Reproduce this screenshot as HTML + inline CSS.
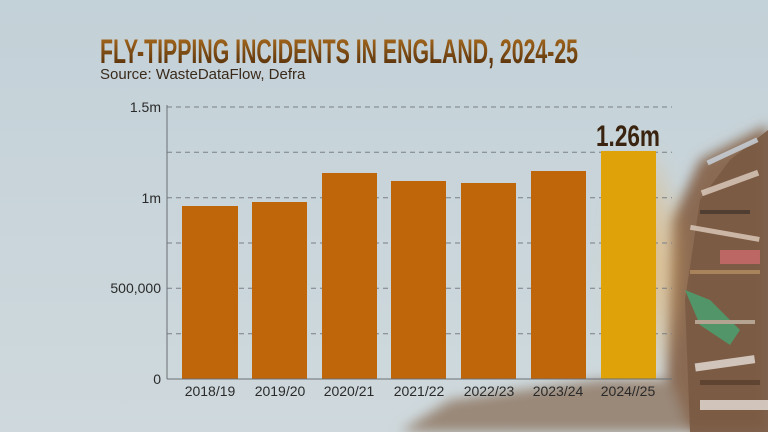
<!DOCTYPE html>
<html><head><style>
body{margin:0;width:768px;height:432px;overflow:hidden;background:#c8d5dc;}
svg{display:block}
</style></head><body>
<svg width="768" height="432" viewBox="0 0 768 432" xmlns="http://www.w3.org/2000/svg">
<defs>
<linearGradient id="bg" x1="0" y1="0" x2="0" y2="1">
<stop offset="0" stop-color="#c3d1d8"/><stop offset="1" stop-color="#cfd9dd"/>
</linearGradient>
<linearGradient id="tg" x1="0" y1="0" x2="0" y2="1">
<stop offset="0" stop-color="#b07020"/><stop offset="1" stop-color="#4a2808"/>
</linearGradient>
<radialGradient id="glow" cx="0.5" cy="0.5" r="0.5">
<stop offset="0" stop-color="#e8b060" stop-opacity="0.8"/><stop offset="1" stop-color="#e8b060" stop-opacity="0"/>
</radialGradient>
<filter id="bl"><feGaussianBlur stdDeviation="6"/></filter>
</defs>
<rect width="768" height="432" fill="url(#bg)"/>
<g filter="url(#bl)">
<path d="M665 432 L672 220 L700 160 L768 125 L768 432Z" fill="#8a6a52"/>
<path d="M400 432 L450 400 L520 390 L600 380 L670 380 L690 432Z" fill="#9a8878"/>
<rect x="600" y="140" width="90" height="250" fill="url(#glow)"/>
</g>
<path d="M690 432 L685 300 L700 200 L730 160 L768 130 L768 432Z" fill="#7a5a42" opacity="0.9"/>
<g opacity="0.85">
<rect x="700" y="180" width="60" height="6" fill="#d9c8ba" transform="rotate(-20 730 183)"/>
<rect x="690" y="230" width="70" height="5" fill="#d9c7b8" transform="rotate(10 720 232)"/>
<rect x="720" y="250" width="40" height="14" fill="#c86a6a"/>
<path d="M685 290 L710 300 L740 330 L730 345 L700 325Z" fill="#4aa070"/>
<rect x="695" y="360" width="60" height="8" fill="#e0d8d0" transform="rotate(-8 720 364)"/>
<rect x="700" y="400" width="68" height="10" fill="#dfd7d0"/>
<rect x="705" y="150" width="55" height="5" fill="#c8d0d8" transform="rotate(-25 730 152)"/>
<rect x="700" y="210" width="50" height="4" fill="#4a3a30"/>
<rect x="690" y="270" width="70" height="4" fill="#b08a60"/>
<rect x="695" y="320" width="60" height="4" fill="#c0b0a0"/>
<rect x="700" y="380" width="60" height="5" fill="#5a4030"/>
</g>
<text x="100" y="63" font-family="Liberation Sans Narrow, Liberation Sans, sans-serif" font-weight="bold" font-size="34" fill="url(#tg)" textLength="478" lengthAdjust="spacingAndGlyphs">FLY-TIPPING INCIDENTS IN ENGLAND, 2024-25</text>
<text x="100" y="79" font-family="Liberation Sans, sans-serif" font-size="15" fill="#3a2a1a">Source: WasteDataFlow, Defra</text>
<g stroke="#7a7f84" stroke-width="1" stroke-dasharray="5,4">
<line x1="167" y1="107" x2="672" y2="107"/>
<line x1="167" y1="152.3" x2="672" y2="152.3"/>
<line x1="167" y1="197.7" x2="672" y2="197.7"/>
<line x1="167" y1="243" x2="672" y2="243"/>
<line x1="167" y1="288.3" x2="672" y2="288.3"/>
<line x1="167" y1="333.7" x2="672" y2="333.7"/>
</g>
<line x1="167" y1="105" x2="167" y2="379" stroke="#6a6f74"/>
<g font-family="Liberation Sans, sans-serif" font-size="14" fill="#2a2a2a" text-anchor="end">
<text x="161" y="112">1.5m</text>
<text x="161" y="203">1m</text>
<text x="161" y="293">500,000</text>
<text x="161" y="384">0</text>
</g>
<g fill="#c0660a">
<rect x="182" y="206" width="56" height="173"/>
<rect x="252" y="202" width="55" height="177"/>
<rect x="322" y="173" width="55" height="206"/>
<rect x="391" y="181" width="55" height="198"/>
<rect x="461" y="183" width="55" height="196"/>
<rect x="531" y="171" width="55" height="208"/>
</g>
<rect x="601" y="151" width="55" height="228" fill="#dfa208"/>
<line x1="167" y1="379" x2="672" y2="379" stroke="#6a6f74"/>
<text x="628" y="146" text-anchor="middle" font-family="Liberation Sans Narrow, Liberation Sans, sans-serif" font-weight="bold" font-size="30" fill="#3a2410" textLength="64" lengthAdjust="spacingAndGlyphs">1.26m</text>
<g font-family="Liberation Sans, sans-serif" font-size="14" fill="#2a2a2a" text-anchor="middle">
<text x="210" y="396">2018/19</text>
<text x="280" y="396">2019/20</text>
<text x="349" y="396">2020/21</text>
<text x="419" y="396">2021/22</text>
<text x="489" y="396">2022/23</text>
<text x="558" y="396">2023/24</text>
<text x="628" y="396">2024//25</text>
</g>
</svg>
</body></html>
